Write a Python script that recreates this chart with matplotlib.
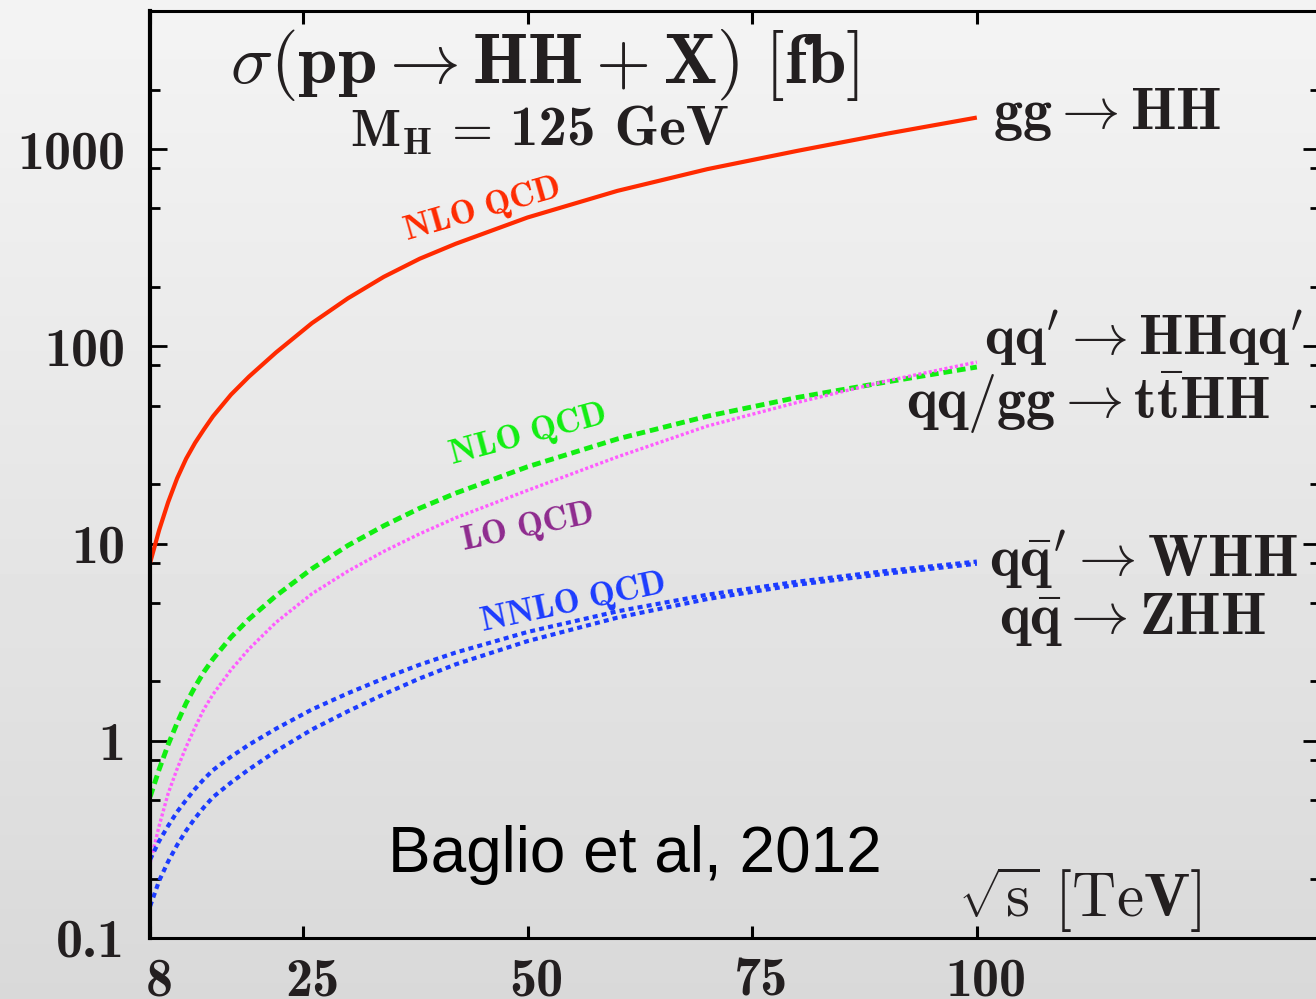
import os
import numpy as np
import matplotlib
matplotlib.use('Agg')
import matplotlib.pyplot as plt
import matplotlib.transforms as mtransforms
from matplotlib.font_manager import FontProperties
from matplotlib.ticker import LogLocator, NullFormatter

plt.rcParams['mathtext.fontset'] = 'cm'
plt.rcParams['font.family'] = 'DejaVu Serif'

# sqrt(s) in TeV and cross sections in fb
sqrt_s = [8, 9, 10, 11, 12, 13, 14, 15, 17, 19, 22, 26, 30, 34, 38, 42, 50, 60, 70, 80, 90, 100]
gg_hh = [8.0, 11.7, 16.2, 21.4, 26.9, 32.4, 38, 44.2, 56.9, 70.2, 93, 131, 175, 225,
         278, 331, 450, 614, 791, 979, 1197, 1445]
qq_hhqq = [0.52, 0.716, 0.955, 1.23, 1.55, 1.88, 2.24, 2.60, 3.35, 4.14, 5.43, 7.45, 9.77,
           12.3, 15.1, 18.0, 24.5, 33.9, 44.2, 55, 66, 78.5]
tthh = [0.24, 0.37, 0.54, 0.72, 0.93, 1.17, 1.45, 1.72, 2.29, 2.92, 3.98, 5.56, 7.24, 9.12,
        11.2, 13.5, 18.6, 27.5, 39.4, 51.9, 66.8, 83.2]
whh = [0.25, 0.31, 0.37, 0.436, 0.50, 0.57, 0.64, 0.71, 0.83, 0.955, 1.15, 1.44, 1.74, 2.07,
       2.43, 2.80, 3.56, 4.53, 5.5, 6.4, 7.26, 8.1]
zhh = [0.145, 0.195, 0.244, 0.296, 0.35, 0.405, 0.461, 0.518, 0.614, 0.716, 0.886, 1.14,
       1.41, 1.72, 2.07, 2.44, 3.20, 4.21, 5.23, 6.18, 7.04, 7.9]

xticks = [8, 25, 50, 75, 100]
yticks = [0.1, 1, 10, 100, 1000]
ytick_labels = ['0.1', '1', '10', '100', '1000']

red = '#ff2a00'
green = '#11ee11'
magenta = '#ff5cff'
blue = '#1c3cff'
purple = '#8e2a8e'
ink = '#231f20'

cmb_path = os.path.join(matplotlib.get_data_path(), 'fonts', 'ttf', 'cmb10.ttf')
cmb = FontProperties(fname=cmb_path, size=39)
cmb_mh = FontProperties(fname=cmb_path, size=41)

fig = plt.figure(figsize=(13.16, 9.99), dpi=100)

# grey gradient background
bg = fig.add_axes([0, 0, 1, 1], zorder=-10)
grad = np.linspace(0.955, 0.85, 256).reshape(-1, 1)
bg.imshow(grad, cmap='gray', vmin=0, vmax=1, aspect='auto',
          extent=[0, 1, 0, 1], origin='upper')
bg.axis('off')

ax = fig.add_axes([0.1141, 0.0611, 0.889, 0.928])
ax.set_facecolor('none')
ax.set_yscale('log')
ax.set_xlim(8, 138.2)
ax.set_ylim(0.1, 5020)

ax.plot(sqrt_s, gg_hh, color=red, lw=3, solid_capstyle='butt')
ax.plot(sqrt_s, qq_hhqq, color=green, lw=3.5, linestyle=(0, (1.8, 1.0)))
ax.plot(sqrt_s, tthh, color=magenta, lw=2.4, linestyle=(0, (0.9, 0.7)))
ax.plot(sqrt_s, whh, color=blue, lw=3, linestyle=(0, (1.2, 1.0)))
ax.plot(sqrt_s, zhh, color=blue, lw=3, linestyle=(0, (1.2, 1.0)))

# axes styling
for side in ['top', 'bottom', 'right']:
    ax.spines[side].set_linewidth(2.2)
ax.spines['left'].set_linewidth(3)

ax.set_xticks(xticks)
ax.set_xticklabels([str(v) for v in xticks], fontproperties=cmb, color=ink)
ax.set_yticks(yticks)
ax.set_yticklabels(ytick_labels, fontproperties=cmb, color=ink)
ax.yaxis.set_minor_locator(LogLocator(base=10, subs=(2, 5, 8)))
ax.yaxis.set_minor_formatter(NullFormatter())
ax.xaxis.set_minor_locator(plt.NullLocator())

ax.tick_params(axis='y', which='major', direction='in', length=12, width=2,
               left=True, right=True, pad=18)
ax.tick_params(axis='y', which='minor', direction='in', length=7, width=2,
               left=True, right=True)
ax.tick_params(axis='x', which='major', direction='in', length=9, width=2.2,
               top=True, bottom=True, pad=14)

shift = mtransforms.ScaledTranslation(0.09, 0, fig.dpi_scale_trans)
for lab in ax.get_xticklabels():
    lab.set_transform(lab.get_transform() + shift)

# titles
ax.text(51.9, 2670, r'$\sigma(\mathbf{pp}\rightarrow\mathbf{HH}+\mathbf{X})\ [\mathbf{fb}]$',
        fontsize=51, ha='center', va='center', color=ink)
# M_H = 125 GeV : math part plus bold digits (mathtext cm has no bold digits)
ax.text(46.05, 1037, r'$\mathbf{M}_{\mathbf{H}}\,=$', fontsize=38,
        ha='right', va='baseline', color=ink)
ax.text(48.05, 1037, '125 GeV', fontproperties=cmb_mh,
        ha='left', va='baseline', color=ink)

# process labels
ax.text(101.8, 1489, r'$\mathbf{gg}\rightarrow\mathbf{HH}$', fontsize=42,
        ha='left', va='center', color=ink)
ax.text(100.8, 110, r"$\mathbf{qq^{\prime}}\rightarrow\mathbf{HHqq^{\prime}}$", fontsize=41,
        ha='left', va='center', color=ink)
ax.text(92.1, 51.7, r'$\mathbf{qq/gg}\rightarrow\mathbf{t\bar{t}HH}$', fontsize=42,
        ha='left', va='center', color=ink)
ax.text(101.4, 8.27, r"$\mathbf{q\bar{q}^{\prime}}\rightarrow\mathbf{WHH}$", fontsize=42,
        ha='left', va='center', color=ink)
ax.text(102.5, 4.1, r'$\mathbf{q\bar{q}}\rightarrow\mathbf{ZHH}$', fontsize=42,
        ha='left', va='center', color=ink)
ax.text(97.9, 0.156, r'$\sqrt{\mathrm{s}}\ [\mathrm{Te}\mathbf{V}]$', fontsize=44,
        ha='left', va='center', color=ink)

# order labels along curves
ax.text(44.9, 491, r'$\mathbf{NLO\ QCD}$', fontsize=25, color=red,
        rotation=16, ha='center', va='center')
ax.text(50, 35.6, r'$\mathbf{NLO\ QCD}$', fontsize=25, color=green,
        rotation=15, ha='center', va='center')
ax.text(50, 12.0, r'$\mathbf{LO\ QCD}$', fontsize=25, color=purple,
        rotation=12, ha='center', va='center')
ax.text(55, 5.0, r'$\mathbf{NNLO\ QCD}$', fontsize=25, color=blue,
        rotation=12, ha='center', va='center')

ax.text(34.5, 0.264, 'Baglio et al, 2012', family='Liberation Sans',
        fontsize=46, ha='left', va='center', color='black')

fig.savefig('out.png', dpi=100)
